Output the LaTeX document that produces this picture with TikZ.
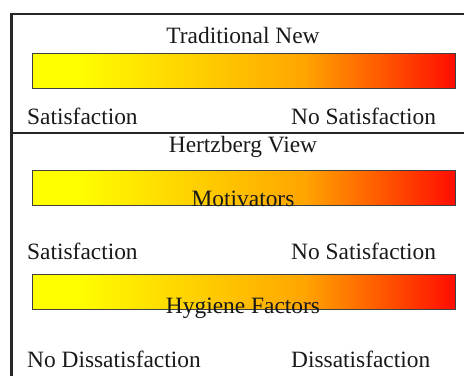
\documentclass[tikz,border=0pt]{standalone}
\usepackage{fontspec}
\setmainfont{Liberation Serif}
\usepackage{tikz}
\usetikzlibrary{positioning}

% yellow -> orange -> red, the path spans 25bp..75bp
\pgfdeclarehorizontalshading{heatbar}{100bp}{rgb(0bp)=(1,1,0); rgb(30bp)=(1,1,0); rgb(57bp)=(1,0.65,0); rgb(75bp)=(1,0.05,0); rgb(100bp)=(1,0.05,0)}

\tikzset{
  bar/.style={draw=black!75,line width=1pt,shading=heatbar,minimum width=423pt,minimum height=35pt,inner sep=0pt},
  lbl/.style={inner sep=0pt,font=\fontsize{23.4}{28}\selectfont,text=black!90},
  frame/.style={line width=2.2pt,black!85}
}

\begin{document}
\begin{tikzpicture}[x=1pt,y=-1pt]
\useasboundingbox (0,0) rectangle (464,376);
\draw[frame] (464,14) -- (11.5,14) -- (11.5,376);
\draw[frame] (11.5,133) -- (464,133);
% top panel
\node[lbl,anchor=base] (trad) at (243,43) {Traditional New};
\node[bar] (bar1) at (244,70.5) {};
\node[lbl,anchor=base west] (sat1) at (27,124) {Satisfaction};
\node[lbl,anchor=base west] (nosat1) at (291,124) {No Satisfaction};
% lower panel
\node[lbl,anchor=base] (hertz) at (243,152) {Hertzberg View};
\node[bar] (bar2) at (244,187.5) {};
\node[lbl,anchor=base] (motiv) at (243,206) {Motivators};
\node[lbl,anchor=base west] (sat2) at (27,259) {Satisfaction};
\node[lbl,anchor=base west] (nosat2) at (291,259) {No Satisfaction};
\node[bar] (bar3) at (244,291.5) {};
\node[lbl,anchor=base] (hyg) at (243,313) {Hygiene Factors};
\node[lbl,anchor=base west] (nodis) at (27,367) {No Dissatisfaction};
\node[lbl,anchor=base west] (dis) at (291,367) {Dissatisfaction};
\end{tikzpicture}
\end{document}
